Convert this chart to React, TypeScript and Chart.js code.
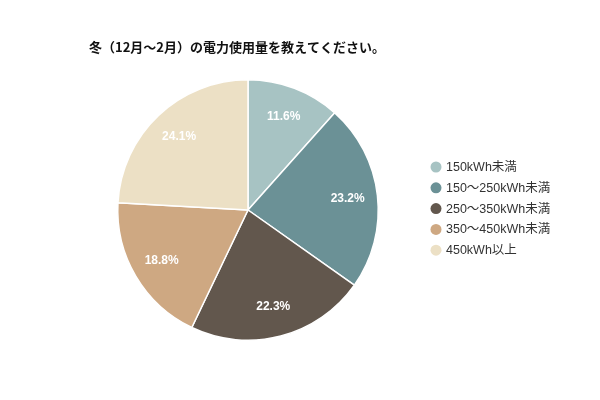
import React, { useEffect, useRef } from "react";
import { Chart, registerables } from "chart.js";

Chart.register(...registerables);

const titleText = "冬（12月～2月）の電力使用量を教えてください。";
const categories = ["150kWh未満", "150～250kWh未満", "250～350kWh未満", "350～450kWh未満", "450kWh以上"];
const shares = [11.6, 23.2, 22.3, 18.8, 24.1];
const sliceColors = ["#a7c3c3", "#6b9196", "#62574d", "#cea882", "#ece0c5"];

const fontFamily = "'Liberation Sans', Arial, 'Noto Sans CJK JP', sans-serif";

// title, legend and the % labels are drawn by hand so they land where the reference has them
const decorations = {
  id: "decorations",
  afterDatasetsDraw(chart: Chart) {
    const ctx = chart.ctx;
    const meta = chart.getDatasetMeta(0);
    ctx.save();
    ctx.fillStyle = "#ffffff";
    ctx.font = `bold 12px ${fontFamily}`;
    ctx.textAlign = "center";
    ctx.textBaseline = "middle";
    meta.data.forEach((arc: any, i: number) => {
      const { x, y, startAngle, endAngle, outerRadius } = arc.getProps(
        ["x", "y", "startAngle", "endAngle", "outerRadius"],
        true,
      );
      const mid = (startAngle + endAngle) / 2;
      const r = outerRadius * 0.77;
      ctx.fillText(`${shares[i].toFixed(1)}%`, x + Math.cos(mid) * r, y + Math.sin(mid) * r);
    });
    ctx.restore();
  },
  afterDraw(chart: Chart) {
    const ctx = chart.ctx;
    ctx.save();
    ctx.fillStyle = "#111111";
    ctx.font = `bold 13px 'Noto Sans CJK JP', sans-serif`;
    ctx.textAlign = "left";
    ctx.textBaseline = "middle";
    ctx.fillText(titleText, 89, 47);

    ctx.font = `12.5px ${fontFamily}`;
    ctx.fillStyle = "#333333";
    categories.forEach((label, i) => {
      const y = 167 + i * 20.8;
      ctx.beginPath();
      ctx.arc(436, y, 5.5, 0, Math.PI * 2);
      ctx.fillStyle = sliceColors[i];
      ctx.fill();
      ctx.fillStyle = "#333333";
      ctx.fillText(label, 446, y + 0.5);
    });
    ctx.restore();
  },
};

export default function App() {
  const canvasRef = useRef<HTMLCanvasElement | null>(null);
  const chartRef = useRef<Chart | null>(null);

  useEffect(() => {
    if (!canvasRef.current) return;
    chartRef.current = new Chart(canvasRef.current, {
      type: "pie",
      data: {
        labels: categories,
        datasets: [
          {
            data: shares,
            backgroundColor: sliceColors,
            borderColor: "#ffffff",
            borderWidth: 1.5,
          },
        ],
      },
      options: {
        responsive: true,
        maintainAspectRatio: false,
        animation: false,
        layout: { padding: { top: 79, bottom: 59, left: 117, right: 221 } },
        plugins: {
          legend: { display: false },
          title: { display: false },
          tooltip: { enabled: false },
        },
      },
      plugins: [decorations],
    });
    return () => {
      chartRef.current?.destroy();
    };
  }, []);

  return (
    <div style={{ position: "fixed", left: 0, top: 0, width: 600, height: 400, background: "#ffffff" }}>
      <canvas ref={canvasRef} />
    </div>
  );
}
